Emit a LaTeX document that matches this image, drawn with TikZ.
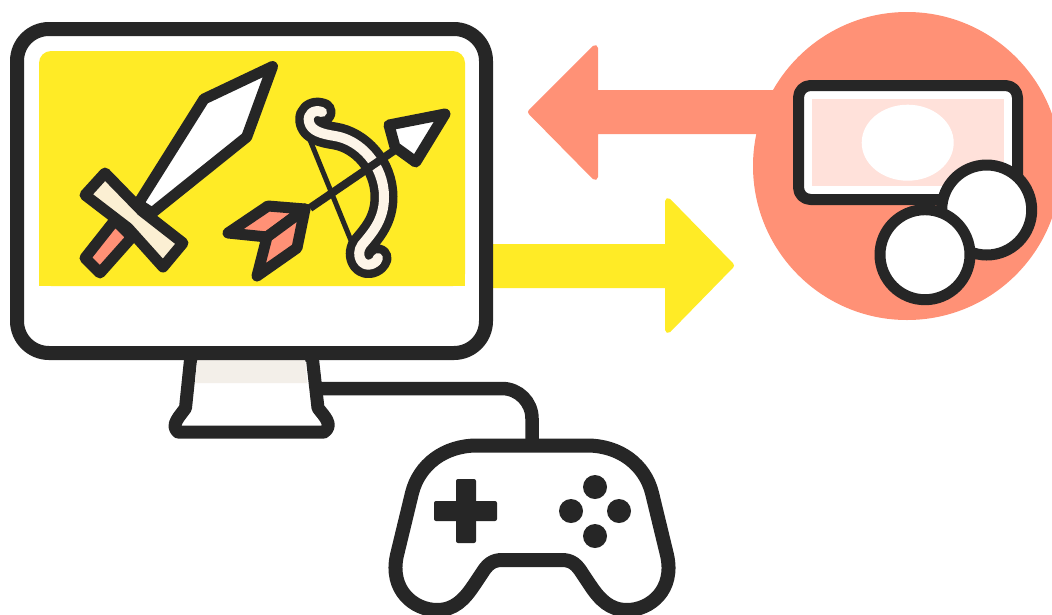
\documentclass[tikz,border=0pt]{standalone}
\definecolor{ink}{HTML}{262626}
\definecolor{sun}{HTML}{FFEB26}
\definecolor{coral}{HTML}{FF9176}
\definecolor{blush}{HTML}{FFE1DA}
\definecolor{cream}{HTML}{FBEFD3}
\definecolor{ivory}{HTML}{FDF5E8}
\definecolor{sand}{HTML}{F3EFE9}
\tikzset{
  x=1pt,y=-1pt,
  ink line/.style={draw=ink,line join=round,line cap=round},
  thick ink/.style={ink line,line width=14pt},
  mid ink/.style={ink line,line width=11pt},
  flat arrow/.style={line width=6pt,line join=round},
}
\begin{document}
\begin{tikzpicture}
\useasboundingbox (0,0) rectangle (1052,614);
\begin{scope}
\clip (0,0) rectangle (1052,614);
% arrows
\filldraw[coral,flat arrow] (780,93) -- (595,93) -- (595,48) -- (531,112) -- (595,177) -- (595,131) -- (780,131) -- cycle;
\filldraw[sun,flat arrow] (480,247) -- (668,247) -- (668,201) -- (731,265.5) -- (668,330) -- (668,285) -- (480,285) -- cycle;
% money
\fill[coral] (907,166) circle[radius=154];
\draw[mid ink,fill=white,rounded corners=12] (798.5,85.5) rectangle (1017.5,199.5);
\fill[blush] (812,99) rectangle (1004,186);
\fill[white] (907.7,142.7) ellipse[x radius=46,y radius=38];
\draw[mid ink,fill=white] (986.7,210) circle[radius=45];
\draw[mid ink,fill=white] (925,254.7) circle[radius=45];
% cable
\coordinate (cableA) at (318,388.5);
\coordinate (cableB) at (532,450);
\draw[ink,line width=13.5pt,rounded corners=30] (cableA) -- (532,388.5) -- (cableB);
% stand
\filldraw[thick ink,fill=white,line width=13pt]
  (191,355) -- (185.5,408) .. controls (180,416) and (170,425) .. (178,432)
  -- (324,432) .. controls (334,425) and (324,416) .. (318,408) -- (312,355) -- cycle;
\fill[sand] (197.5,358) -- (305,358) -- (307.3,383) -- (195,383) -- cycle;
% monitor
\draw[thick ink,fill=white,rounded corners=32] (17,29) rectangle (486,353);
\fill[sun,rounded corners=12] (39,286) -- (39,51) -- (465,51) -- (465,286) -- cycle;
\fill[sun] (39,200) rectangle (465,286);
% sword
\filldraw[mid ink,fill=coral] (115,220) -- (85,258) -- (100,273) -- (132,237) -- cycle;
\filldraw[mid ink,fill=white] (138,204) -- (204,99) -- (272.5,66.5) -- (246.7,137) -- (152,213) -- cycle;
\filldraw[mid ink,fill=cream] (105,173) -- (85,195) -- (128,228) -- (163,267)
  -- (183,243) -- (142,211) -- cycle;
% bow
\draw[ink,line width=5pt,line cap=round] (310,140) -- (352,243);
\def\bowpath{(322,112) .. controls (314,109) and (307,114) .. (309,122)
  .. controls (311,131) and (322,134) .. (335,136)
  .. controls (360,140) and (384,165) .. (384,197)
  .. controls (384,220) and (372,233) .. (362,245)
  .. controls (355,255) and (362,268) .. (372,264)
  .. controls (376,262) and (378,260) .. (378,258)}
\draw[ink,line width=27pt,line join=round,line cap=round] \bowpath;
\draw[ivory,line width=10pt,line join=round,line cap=round] \bowpath;
% arrow through the bow
\draw[ink,line width=8pt] (310,208) -- (395,150);
\filldraw[mid ink,fill=white] (445,114) -- (389,125) -- (395,147) -- (415.7,162) -- cycle;
\filldraw[mid ink,fill=coral] (228,233) -- (268,206) -- (305,209) -- (267,237) -- cycle;
\filldraw[mid ink,fill=coral] (305,209) -- (297,248) -- (257,276) -- (267,237) -- cycle;
% controller
\draw[thick ink,fill=white] (477,445.5) -- (587,445.5)
  .. controls (620,445.5) and (645,465) .. (652,493) -- (667,555)
  .. controls (675,590) and (650,610) .. (627,610)
  .. controls (610,610) and (600,600) .. (590,585) -- (582,573)
  .. controls (577,565) and (572,560) .. (562,560) -- (502,560)
  .. controls (492,560) and (487,565) .. (482,573) -- (474,585)
  .. controls (464,600) and (454,610) .. (437,610)
  .. controls (414,610) and (389,590) .. (397,555) -- (412,493)
  .. controls (419,465) and (444,445.5) .. (477,445.5) -- cycle;
\fill[ink,rounded corners=2] (434,501) rectangle (497,521);
\fill[ink,rounded corners=2] (456,479) rectangle (476,543);
\fill[ink] (595,487) circle[radius=12];
\fill[ink] (571,511) circle[radius=12];
\fill[ink] (619,511) circle[radius=12];
\fill[ink] (595,536) circle[radius=12];
\end{scope}
\end{tikzpicture}
\end{document}
